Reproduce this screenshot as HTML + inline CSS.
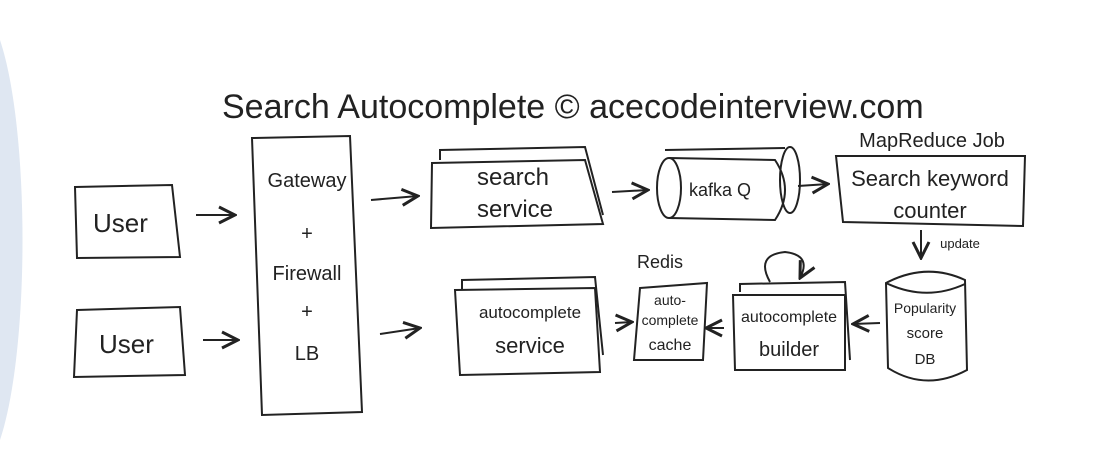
<!DOCTYPE html>
<html><head><meta charset="utf-8"><style>
html,body{margin:0;padding:0;background:#fff;width:1098px;height:476px;overflow:hidden;}
svg{display:block;overflow:hidden;}
text{font-family:"Liberation Sans",sans-serif;fill:#222;}
</style></head><body>
<svg width="1098" height="476" viewBox="0 0 1098 476" xmlns="http://www.w3.org/2000/svg">
<defs><marker id="a" markerWidth="10" markerHeight="10" refX="9" refY="5" orient="auto"><path d="M1,1 L9,5 L1,9" fill="none" stroke="#222" stroke-width="1.5"/></marker></defs>
<path d="M0,40 C30,130 30,350 0,440 Z" fill="#dfe7f2"/>
<g fill="none" stroke="#222" stroke-width="2">
<path d="M75,187 L172,185 L180,257 L77,258 Z"/>
<path d="M77,310 L180,307 L185,375 L74,377 Z"/>
<line x1="196" y1="215" x2="235" y2="215" marker-end="url(#a)"/>
<line x1="203" y1="340" x2="238" y2="340" marker-end="url(#a)"/>
<path d="M252,138 L350,136 L362,412 L262,415 Z"/>
<line x1="371" y1="200" x2="418" y2="196" marker-end="url(#a)"/>
<line x1="380" y1="334" x2="420" y2="328" marker-end="url(#a)"/>
<path d="M440,160 L440,150 L585,147 L603,215"/>
<path d="M432,163 L585,160 L603,224 L431,228 Z"/>
<line x1="612" y1="192" x2="648" y2="190" marker-end="url(#a)"/>
<path d="M665,150 L785,148"/><ellipse cx="790" cy="180" rx="10" ry="33"/>
<ellipse cx="669" cy="188" rx="12" ry="30"/>
<path d="M669,158 L775,160 Q795,190 775,220 L669,218"/>
<line x1="798" y1="186" x2="828" y2="184" marker-end="url(#a)"/>
<path d="M836,156 L1025,156 L1023,226 L843,222 Z"/>
<line x1="921" y1="230" x2="921" y2="258" marker-end="url(#a)"/>
<path d="M886,283 Q926,262 965,280 L967,370 Q926,392 888,368 Z"/>
<path d="M886,283 Q926,302 965,284"/>
<line x1="880" y1="323" x2="853" y2="324" marker-end="url(#a)"/>
<path d="M740,292 L740,284 L845,282 L850,360"/>
<path d="M733,295 L845,295 L845,370 L735,370 Z"/>
<path d="M770,282 Q755,255 785,252 Q812,255 800,278" marker-end="url(#a)"/>
<line x1="724" y1="328" x2="706" y2="328" marker-end="url(#a)"/>
<path d="M640,288 L707,283 L703,360 L634,360 Z"/>
<line x1="615" y1="323" x2="632" y2="322" marker-end="url(#a)"/>
<path d="M462,290 L462,280 L595,277 L603,355"/>
<path d="M455,290 L595,288 L600,372 L460,375 Z"/>
</g>
<text x="222" y="118" font-size="34">Search Autocomplete © acecodeinterview.com</text>
<text x="93" y="232" font-size="26">User</text>
<text x="99" y="353" font-size="26">User</text>
<g font-size="20" text-anchor="middle">
<text x="307" y="187">Gateway</text><text x="307" y="240">+</text>
<text x="307" y="280">Firewall</text><text x="307" y="318">+</text><text x="307" y="360">LB</text>
</g>
<text x="513" y="185" font-size="24" text-anchor="middle">search</text>
<text x="515" y="217" font-size="24" text-anchor="middle">service</text>
<text x="720" y="196" font-size="18" text-anchor="middle">kafka Q</text>
<text x="932" y="147" font-size="20" text-anchor="middle">MapReduce Job</text>
<text x="930" y="186" font-size="22" text-anchor="middle">Search keyword</text>
<text x="930" y="218" font-size="22" text-anchor="middle">counter</text>
<text x="960" y="248" font-size="13" text-anchor="middle">update</text>
<g text-anchor="middle">
<text x="925" y="313" font-size="14">Popularity</text>
<text x="925" y="338" font-size="15">score</text>
<text x="925" y="364" font-size="15">DB</text>
<text x="789" y="322" font-size="16">autocomplete</text>
<text x="789" y="356" font-size="20">builder</text>
<text x="660" y="268" font-size="18">Redis</text>
<text x="670" y="305" font-size="14">auto-</text>
<text x="670" y="325" font-size="14">complete</text>
<text x="670" y="350" font-size="16">cache</text>
<text x="530" y="318" font-size="17">autocomplete</text>
<text x="530" y="353" font-size="22">service</text>
</g>
</svg>
</body></html>
